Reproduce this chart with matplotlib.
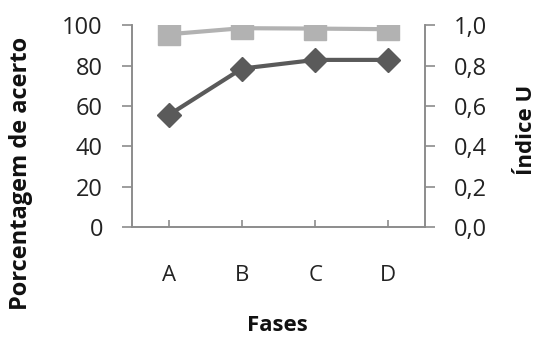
import matplotlib.pyplot as plt

# Fases do treino e os dois indicadores
fases = ['A', 'B', 'C', 'D']
acerto = [55.5, 78.5, 82.8, 82.8]        # porcentagem de acerto (eixo esquerdo)
indice_u = [0.955, 0.985, 0.983, 0.980]  # indice U (eixo direito)

left_ticks = [0, 20, 40, 60, 80, 100]
right_ticks = [0.0, 0.2, 0.4, 0.6, 0.8, 1.0]
right_labels = ['0,0', '0,2', '0,4', '0,6', '0,8', '1,0']

plt.rcParams['font.family'] = ['Open Sans', 'DejaVu Sans']

fig = plt.figure(figsize=(5.39, 3.40), dpi=100)
ax = fig.add_axes([0.245, 0.332, 0.5435, 0.594])
ax2 = ax.twinx()

x = range(len(fases))
ax.plot(x, acerto, color='#5a5a5a', lw=3, marker='D', ms=12, zorder=3)
ax2.plot(x, indice_u, color='#b2b2b2', lw=3, marker='s', ms=16, zorder=3)

ax.set_xlim(-0.5, len(fases) - 0.5)
ax.set_ylim(0, 100)
ax2.set_ylim(0, 1.0)

ax.set_xticks(list(x))
ax.set_xticklabels(fases)
ax.set_yticks(left_ticks)
ax2.set_yticks(right_ticks)
ax2.set_yticklabels(right_labels)

spine_col = '#8c8c8c'
for a in (ax, ax2):
    a.spines['top'].set_visible(False)
    for side in ('left', 'right', 'bottom'):
        a.spines[side].set_color(spine_col)
        a.spines[side].set_linewidth(1.2)

ax.tick_params(axis='y', direction='out', length=7, width=1.2, color=spine_col,
               labelsize=17, pad=14, labelcolor='#222222')
ax2.tick_params(axis='y', direction='out', length=7, width=1.2, color=spine_col,
                labelsize=17, pad=14, labelcolor='#222222')
ax.tick_params(axis='x', direction='in', length=5, width=1.2, color=spine_col,
               labelsize=16, pad=27, labelcolor='#222222')

ax.set_xlabel('Fases', fontsize=16, fontweight='bold', color='#111111')
ax.xaxis.set_label_coords(0.495, -0.435)
ax.set_ylabel('Porcentagem de acerto', fontsize=17, fontweight='bold',
              color='#111111')
ax.yaxis.set_label_coords(-0.338, 0.267)
ax2.set_ylabel('Índice U', fontsize=16, fontweight='bold', color='#111111')
ax2.yaxis.set_label_coords(1.31, 0.48)

fig.savefig('out.png', dpi=100)
